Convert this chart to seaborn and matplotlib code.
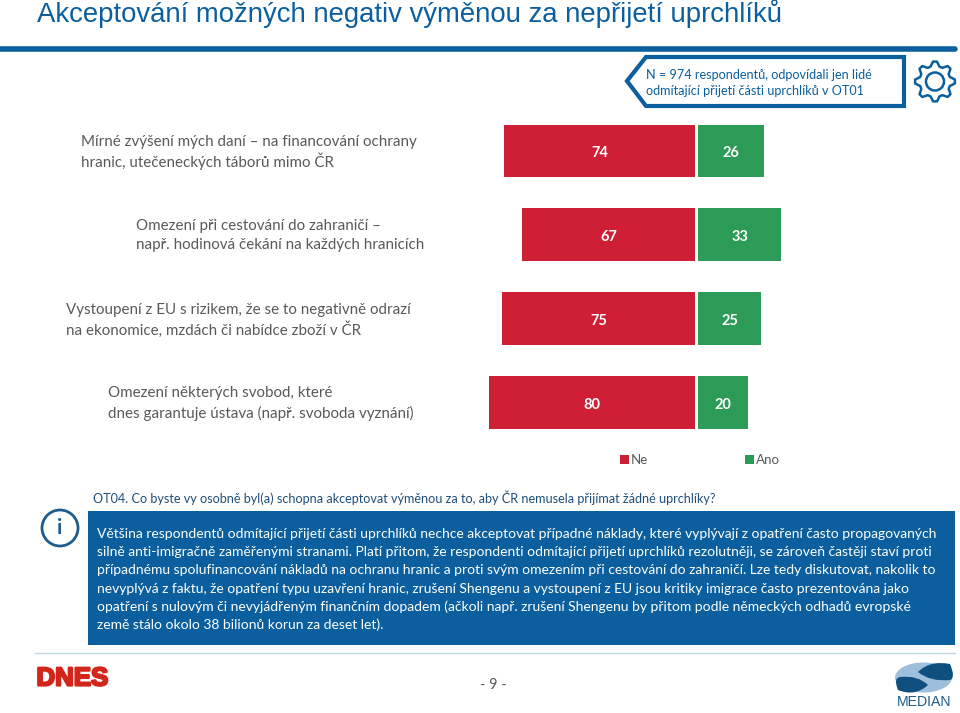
import numpy as np
import pandas as pd
import seaborn as sns
import matplotlib.pyplot as plt
import matplotlib.patheffects as pe
from matplotlib.patches import Polygon, Rectangle, Circle, Ellipse, PathPatch
from matplotlib.path import Path

title = "Akceptování možných negativ výměnou za nepřijetí uprchlíků"
note = ["N = 974 respondentů, odpovídali jen lidé", "odmítající přijetí části uprchlíků v OT01"]
categories = ["A", "B", "C", "D"]
ne = [74, 67, 75, 80]
ano = [26, 33, 25, 20]
# popisky radku
labels = [
    ["Mírné zvýšení mých daní – na financování ochrany", "hranic, utečeneckých táborů mimo ČR"],
    ["Omezení při cestování do zahraničí –", "např. hodinová čekání na každých hranicích"],
    ["Vystoupení z EU s rizikem, že se to negativně odrazí", "na ekonomice, mzdách či nabídce zboží v ČR"],
    ["Omezení některých svobod, které", "dnes garantuje ústava (např. svoboda vyznání)"],
]
question = "OT04. Co byste vy osobně byl(a) schopna akceptovat výměnou za to, aby ČR nemusela přijímat žádné uprchlíky?"
body = [
    "Většina respondentů odmítající přijetí části uprchlíků nechce akceptovat případné náklady, které vyplývají z opatření často propagovaných",
    "silně anti-imigračně zaměřenými stranami. Platí přitom, že respondenti odmítající přijetí uprchlíků rezolutněji, se zároveň častěji staví proti",
    "případnému spolufinancování nákladů na ochranu hranic a proti svým omezením při cestování do zahraničí. Lze tedy diskutovat, nakolik to",
    "nevyplývá z faktu, že opatření typu uzavření hranic, zrušení Shengenu a vystoupení z EU jsou kritiky imigrace často prezentována jako",
    "opatření s nulovým či nevyjádřeným finančním dopadem (ačkoli např. zrušení Shengenu by přitom podle německých odhadů evropské",
    "země stálo okolo 38 bilionů korun za deset let).",
]

RED = "#CE1F37"
GREEN = "#2B9B57"
BLUE = "#0B5F9E"
GREY = "#595959"
W, H = 960, 713

sns.set_theme(style="white")
plt.rcParams["font.family"] = ["Lato", "DejaVu Sans"]
fig = plt.figure(figsize=(9.6, 7.13), dpi=100)

# podklad v pixelech
bg = fig.add_axes([0, 0, 1, 1])
bg.set_xlim(0, W)
bg.set_ylim(H, 0)
bg.axis("off")


def add_axes_px(x0, y0, x1, y1):
    a = fig.add_axes([x0 / W, 1 - y1 / H, (x1 - x0) / W, (y1 - y0) / H])
    a.patch.set_alpha(0)
    return a


df = pd.DataFrame({"cat": categories, "ne": ne, "ano": ano})

ax_l = add_axes_px(437.5, 109, 695, 444.5)
sns.barplot(data=df, y="cat", x="ne", color=RED, saturation=1, width=0.63, linewidth=0, ax=ax_l)
ax_l.set_xlim(100, 0)
ax_r = add_axes_px(698, 109, 950, 444.5)
sns.barplot(data=df, y="cat", x="ano", color=GREEN, saturation=1, width=0.63, linewidth=0, ax=ax_r)
ax_r.set_xlim(0, 100)

for a, vals in ((ax_l, ne), (ax_r, ano)):
    a.axis("off")
    for i, v in enumerate(vals):
        a.annotate(str(v), (v / 2, i), xytext=(0, -1.6), textcoords="offset points", color="white",
                   ha="center", va="center", fontsize=10.5, fontweight="bold")

# nadpis
bg.text(37, 14, title, family="Liberation Sans", color=BLUE, fontsize=19.8, va="center")
bg.plot([0, 955], [48.5, 48.5], color=BLUE, lw=4, solid_capstyle="round")

# poznamka se sipkou
bg.add_patch(Polygon([[904, 57], [646, 57], [627, 81], [646, 106], [904, 106]], closed=True,
                     fc="white", ec=BLUE, lw=3))
bg.text(646, 75, note[0], color=BLUE, fontsize=9.05, va="center")
bg.text(646, 91, note[1], color=BLUE, fontsize=9.05, va="center")

# ozubene kolo
ang = np.linspace(0, 2 * np.pi, 8 * 4, endpoint=False)
rr = np.array([20, 20, 15.5, 15.5] * 8)
gx = 935 + rr * np.cos(ang - 0.1)
gy = 81.5 + rr * np.sin(ang - 0.1)
bg.add_patch(Polygon(np.column_stack([gx, gy]), closed=True, fc="none", ec=BLUE, lw=1.8, joinstyle="round"))
bg.add_patch(Circle((935, 81.5), 9, fc="none", ec=BLUE, lw=1.8))

# popisky kategorii
label_x = [81, 136, 66, 108]
label_y = [[142, 161], [226, 245.5], [310, 329.5], [393.5, 413]]
for lines, x, ys in zip(labels, label_x, label_y):
    for t, y in zip(lines, ys):
        bg.text(x, y, t, color=GREY, fontsize=10.9, va="center")

# legenda
bg.add_patch(Rectangle((620, 455), 9, 9, fc=RED, ec="none"))
bg.text(631, 459.5, "Ne", color=GREY, fontsize=9.6, va="center")
bg.add_patch(Rectangle((745, 455), 9, 9, fc=GREEN, ec="none"))
bg.text(756, 459.5, "Ano", color=GREY, fontsize=9.6, va="center")

# otazka a text
bg.text(93, 498, question, color="#1F4E79", fontsize=9.1, va="center")
bg.add_patch(Rectangle((88, 511), 867, 134, fc=BLUE, ec="none"))
for i, t in enumerate(body):
    bg.text(97, 534 + i * 18.2, t, color="white", fontsize=10.0, va="center")

# ikona info
bg.add_patch(Circle((60, 528), 18, fc="white", ec="#1F5C8B", lw=2))
bg.text(60, 528.5, "i", color="#1F5C8B", fontsize=15, ha="center", va="center", fontweight="bold")

# paticka
bg.plot([35, 955], [652.5, 652.5], color="#BFD7E3", lw=1)
dnes = bg.text(36.5, 678.5, "DNES", family="Liberation Sans", color="#D2261B", fontsize=18.6,
               fontweight="bold", va="center")
dnes.set_path_effects([pe.withStroke(linewidth=1.6, foreground="#D2261B")])
bg.text(493, 685, "- 9 -", color=GREY, fontsize=10.5, ha="center", va="center")

# logo MEDIAN
C3 = Path.CURVE3
bg.add_patch(Ellipse((923.5, 677.5), 57, 30, fc="#9DBFDB", ec="none"))
bg.add_patch(PathPatch(Path([(918, 672), (930, 660), (950, 664), (956, 678), (950, 680), (930, 682), (918, 672)],
                            [Path.MOVETO, C3, C3, C3, C3, C3, C3]), fc="#0E4F80", ec="none"))
bg.add_patch(PathPatch(Path([(928, 685), (915, 697), (898, 690), (893, 678), (900, 677), (918, 675), (928, 685)],
                            [Path.MOVETO, C3, C3, C3, C3, C3, C3]), fc="#0E4F80", ec="none"))
bg.text(924.5, 702, "MEDIAN", family="Liberation Sans", color="#1F5C8B", fontsize=10.2, ha="center", va="center")

fig.savefig("out.png", dpi=100)
